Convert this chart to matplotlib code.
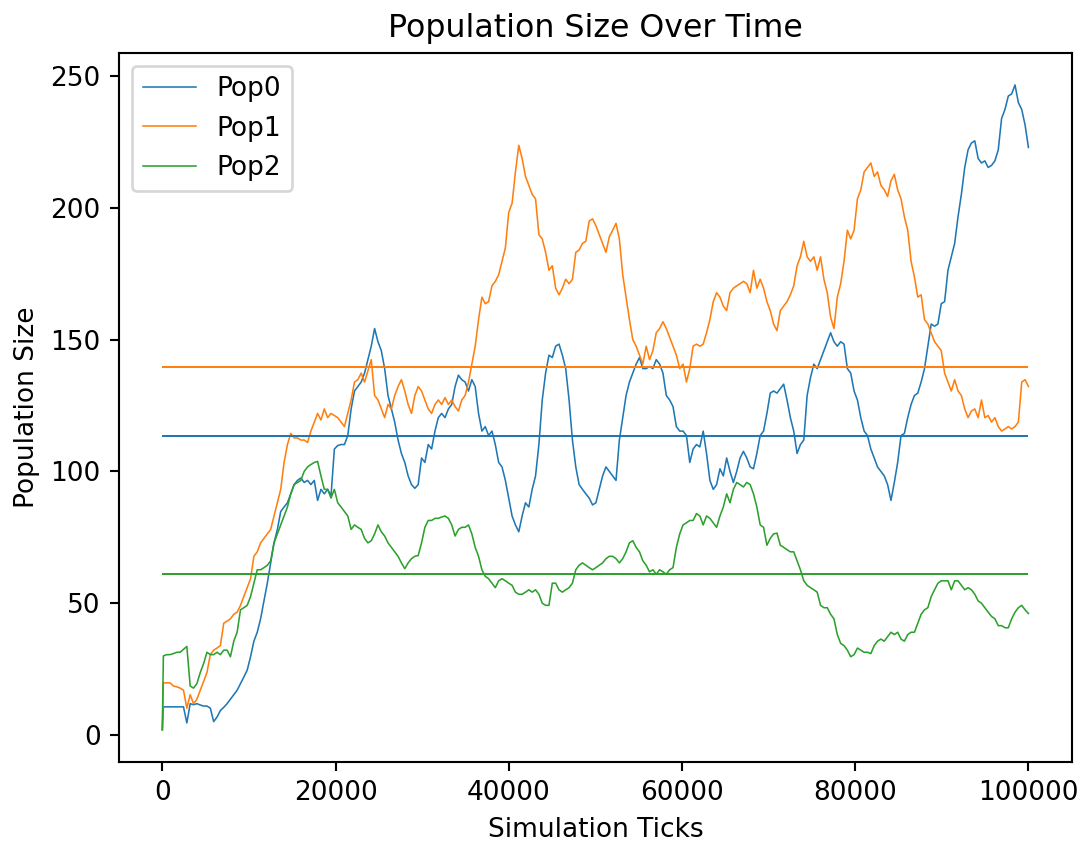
import numpy as np
import matplotlib
matplotlib.use("Agg")
import matplotlib.pyplot as plt

pop0 = [2,
        10.7, 10.7, 10.7, 10.7, 10.7, 10.7, 10.7, 4.6, 11.9, 11.5,
        11.9, 11.4, 11.0, 11.0, 10.2, 5.1, 6.8, 9.3, 10.5, 11.9,
        13.6, 15.3, 17.0, 19.5, 22.0, 24.6, 29.7, 35.6, 39.0, 44.1,
        50.9, 57.6, 65.3, 72.9, 78.0, 84.8, 86.5, 88.1, 91.5, 95.0,
        96.6, 97.5, 95.8, 96.6, 95.0, 96.6, 89.0, 93.2, 91.5, 93.2,
        90.7, 108.5, 109.8, 110.2, 110.2, 113.6, 123.7, 130.5, 132.2, 133.9,
        137.3, 142.4, 147.5, 154.2, 149.2, 145.8, 139.0, 128.8, 123.7, 118.7,
        111.9, 106.8, 103.4, 98.3, 95.0, 93.6, 95.0,
        105.1, 103.4, 110.2, 108.5, 115.3, 120.4, 122.0, 120.4, 123.7, 125.4,
        132.2, 136.5, 134.8, 133.9, 130.5, 134.8, 132.2, 122.0, 115.3, 117.0,
        113.6, 115.3, 110.2, 103.4, 101.7, 96.6, 89.9, 83.1, 79.7, 77.1,
        83.1, 88.1, 86.5, 93.2, 98.3, 110.2, 127.1, 137.3, 144.1, 143.2,
        147.5, 148.3, 144.1, 139.0, 127.1, 111.9, 101.7, 95.0, 93.2, 91.5,
        89.9, 87.3, 88.1, 93.2, 98.3, 101.7, 100.0, 98.3, 96.6, 111.9,
        120.4, 128.8, 133.9, 137.3, 140.7, 143.2, 139.0, 139.0, 139.8, 139.0,
        142.4, 140.7, 137.3, 128.8, 127.1, 124.6, 117.0, 115.3, 115.3, 113.6,
        103.4, 108.5, 110.2, 109.3,
        115.3, 106.8, 96.6, 93.2, 95.0, 101.0, 98.3, 105.1, 100.0, 95.8,
        100.0, 105.1, 107.6, 105.1, 101.7, 101.0, 106.8, 113.6, 115.3, 122.0,
        129.7, 130.5, 129.7, 131.4, 133.1, 127.1, 120.4, 115.3, 106.8, 110.2,
        111.9, 128.8, 135.6, 140.7, 139.0, 142.4, 145.8, 149.2, 152.6, 149.2,
        147.5, 149.2, 148.3, 139.0, 137.3, 130.5, 127.1, 120.4, 115.3, 113.6,
        108.5, 105.1, 101.7, 100.0, 98.3, 95.0, 89.0, 95.8, 103.4,
        113.6, 114.4, 120.4, 125.4, 128.8, 129.7, 133.9, 139.0, 147.5, 155.9,
        155.1, 155.9, 163.6, 164.4, 176.3, 181.4, 186.5, 196.6, 205.1, 215.3,
        222.0, 224.6, 225.4, 218.7, 217.0, 217.8, 215.3, 216.1, 217.8, 222.0,
        233.9, 237.3, 242.4, 243.2, 246.6, 239.9, 237.3, 231.4, 222.9]

pop1 = [2,
        19.8, 19.8, 19.8, 18.6, 18.3, 17.8, 17.0, 10.2, 15.3, 11.9,
        13.6, 17.0, 20.3, 23.7, 30.5, 32.2, 33.0, 33.9, 42.4, 43.2,
        44.1, 45.8, 46.6, 49.2, 52.5, 55.9, 59.3, 67.8, 69.5, 72.9,
        74.6, 76.3, 78.0, 83.1, 88.1, 93.2, 103.4, 110.2, 114.4, 112.7,
        112.7, 111.9, 111.9, 111.0, 115.3, 118.7, 122.0, 119.5, 123.7, 120.4,
        122.0, 121.2, 120.4, 118.7, 117.0, 122.0, 127.1, 133.9, 134.8, 137.3,
        133.9, 138.1, 142.4, 128.8, 127.1, 123.7, 120.4, 125.4, 123.7, 128.8,
        132.2, 134.8, 130.5, 125.4, 122.0, 128.8, 132.2,
        130.5, 127.1, 123.7, 122.0, 125.4, 127.1, 125.4, 128.0, 125.4, 127.1,
        124.6, 122.9, 127.1, 128.8, 133.9, 140.7, 147.5, 157.6, 166.1, 163.6,
        164.4, 170.4, 172.1, 174.6, 179.7, 184.8, 198.3, 201.7, 213.6, 223.7,
        218.7, 211.9, 208.5, 205.1, 203.4, 189.8, 188.2, 183.1, 176.3, 178.0,
        169.5, 167.0, 169.5, 172.9, 171.2, 172.9, 183.1, 184.0, 186.5, 187.3,
        195.0, 195.8, 193.2, 189.8, 186.5, 183.1, 189.0, 191.5, 194.1, 188.2,
        174.6, 166.1, 157.6, 150.0, 147.5, 144.1, 140.7, 147.5, 142.4, 145.8,
        152.6, 154.2, 156.8, 154.2, 150.9, 147.5, 144.1, 139.0, 140.7, 133.9,
        139.0, 147.5, 148.3, 147.5,
        148.3, 152.6, 157.6, 164.4, 167.8, 166.1, 162.7, 161.0, 167.8, 169.5,
        170.4, 171.2, 172.1, 171.2, 167.8, 176.3, 169.5, 172.9, 169.5, 164.4,
        161.0, 155.9, 153.4, 161.0, 162.7, 164.4, 167.0, 170.4, 178.0, 181.4,
        187.3, 181.4, 179.7, 181.4, 176.3, 181.4, 172.9, 167.8, 158.5, 154.2,
        166.1, 171.2, 179.7, 191.5, 188.2, 191.5, 203.4, 206.8, 213.6, 215.3,
        217.0, 211.9, 213.6, 208.5, 206.8, 204.3, 210.2, 212.7, 206.8,
        203.4, 196.6, 191.5, 179.7, 173.8, 166.1, 167.0, 157.6, 155.9, 152.6,
        149.2, 147.5, 145.8, 137.3, 133.9, 130.5, 134.8, 130.5, 128.8, 123.7,
        120.4, 122.9, 123.7, 120.4, 127.1, 120.4, 121.2, 118.7, 120.4, 117.0,
        115.3, 116.1, 117.0, 116.1, 117.0, 118.7, 133.9, 134.8, 132.2]

pop2 = [2,
        30.0, 30.5, 30.5, 30.9, 31.4, 31.4, 32.5, 33.6, 18.6, 17.8,
        19.5, 23.7, 27.1, 31.4, 30.5, 30.5, 31.4, 30.5, 32.2, 32.2,
        29.7, 35.6, 39.0, 47.5, 48.3, 49.2, 52.5, 57.6, 62.7, 62.7,
        63.5, 64.4, 66.1, 72.9, 76.3, 79.7, 83.1, 86.5, 91.5, 95.0,
        95.8, 96.6, 100.0, 101.7, 102.6, 103.4, 103.8, 98.3, 93.2, 93.2,
        89.9, 93.2, 88.1, 86.5, 84.8, 83.1, 78.0, 79.7, 78.8, 78.0,
        74.6, 72.9, 73.7, 76.3, 79.7, 77.1, 75.5, 72.9, 71.2, 69.5,
        67.8, 65.3, 63.1, 65.3, 66.9, 67.8, 68.1,
        72.9, 78.8, 81.4, 81.4, 82.2, 82.2, 82.7, 83.1, 82.2, 79.7,
        75.5, 78.0, 78.8, 78.8, 79.7, 76.3, 71.2, 67.8, 62.7, 60.2,
        59.3, 57.6, 55.9, 58.5, 59.3, 58.5, 57.6, 56.8, 54.2, 53.4,
        53.4, 54.2, 55.1, 54.2, 55.1, 53.4, 50.0, 49.2, 49.2, 57.6,
        57.6, 55.1, 54.2, 55.1, 55.9, 57.6, 62.7, 64.4, 65.3, 64.4,
        63.5, 62.7, 63.5, 64.4, 65.3, 66.9, 67.8, 67.8, 66.9, 65.3,
        66.9, 69.5, 72.9, 73.7, 71.2, 69.5, 66.1, 64.4, 61.9, 62.7,
        61.0, 62.7, 61.9, 61.0, 62.7, 63.5, 71.2, 76.3, 79.7, 80.5,
        81.4, 81.4, 84.0, 83.1,
        79.7, 83.1, 82.2, 80.5, 78.8, 83.1, 86.5, 91.5, 88.1, 93.2,
        95.8, 95.0, 94.1, 95.8, 95.0, 91.5, 86.5, 79.7, 78.8, 72.0,
        74.6, 76.3, 76.6, 72.0, 71.2, 70.3, 69.5, 69.5, 66.1, 62.7,
        58.5, 56.8, 55.9, 55.1, 54.2, 49.2, 48.3, 48.3, 45.8, 44.1,
        38.1, 34.8, 33.9, 32.2, 29.7, 30.5, 33.0, 32.2, 31.4, 31.4,
        30.9, 33.9, 35.6, 36.4, 35.6, 37.3, 39.0, 38.1, 39.0,
        36.4, 35.6, 38.1, 39.0, 39.0, 42.4, 45.8, 47.5, 48.3, 52.5,
        55.1, 57.6, 58.5, 58.5, 58.5, 55.1, 58.5, 58.5, 56.8, 55.1,
        55.9, 55.1, 53.4, 50.9, 50.0, 48.3, 46.6, 45.0, 44.1, 41.5,
        41.5, 40.7, 40.7, 44.1, 46.6, 48.3, 49.2, 47.5, 46.1]

# mean population size of each run (horizontal reference lines)
pop_means = [113.5, 139.5, 61.2]

labels = ["Pop0", "Pop1", "Pop2"]
colors = ["#1f77b4", "#ff7f0e", "#2ca02c"]

# sample ticks: first record at tick 0, then evenly spaced up to 100000
ticks = np.concatenate([[0], np.linspace(120, 100000, len(pop0) - 1)])

DPI = 190
fig = plt.figure(figsize=(1083 / DPI, 842 / DPI), dpi=DPI)
ax = fig.add_axes([0.1099, 0.0950, 0.8797, 0.8424])

for series, label, color in zip([pop0, pop1, pop2], labels, colors):
    ax.plot(ticks, series, color=color, linewidth=0.6, label=label)

for mean, color in zip(pop_means, colors):
    ax.hlines(mean, ticks[0], ticks[-1], color=color, linewidth=0.75)

ax.set_title("Population Size Over Time", fontsize=12)
ax.set_xlabel("Simulation Ticks")
ax.set_ylabel("Population Size")
ax.legend(loc="upper left")

fig.savefig("out.png", dpi=DPI)
plt.close(fig)
